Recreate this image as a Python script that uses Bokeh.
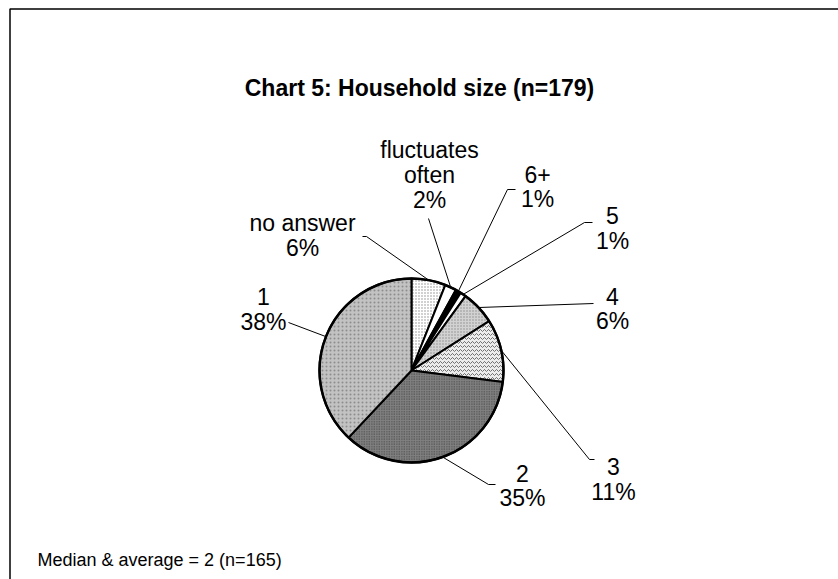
import numpy as np
from bokeh.plotting import figure
from bokeh.models import ColumnDataSource, Range1d
from bokeh.core.properties import value
from bokeh.embed import file_html
from bokeh.resources import INLINE

# ---- data ----
categories = ["no answer", "fluctuates often", "6+", "5", "4", "3", "2", "1"]
percent = [6, 2, 1, 1, 6, 11, 35, 38]
label_text = ["no answer\n6%", "fluctuates\noften\n2%", "6+\n1%", "5\n1%",
              "4\n6%", "3\n11%", "2\n35%", "1\n38%"]
chart_title = "Chart 5: Household size (n=179)"
note_text = "Median & average = 2 (n=165)"

# ---- styles ----
fills = ["#ffffff", "#ffffff", "#000000", "#ffffff", "#d2d2d2", "#ececec", "#808080", "#c2c2c2"]
hatches = ["dot", " ", " ", " ", "dot", "horizontal_wave", "dot", "dot"]
hatch_cols = ["#8c8c8c", "#ffffff", "#000000", "#ffffff", "#8c8c8c", "#707070", "#3c3c3c", "#8c8c8c"]
hatch_scales = [3, 4, 4, 4, 3, 4, 2.5, 4]
FONT = value("Liberation Sans")

# ---- layout (page pixel coordinates, y downward) ----
PAGE_W, PAGE_H = 838, 579
CX, CY, R = 411, 370, 92
LINE_GAP = 25
# label block centre
label_pos = [(302, 235), (429, 174), (537, 186), (612, 227.5),
             (612, 308), (613, 478.5), (522, 485), (263, 308.5)]
# outer end of each leader line and the length of its horizontal tick
leader_end = [(362, 236), (428, 218), (515, 189), (592, 222),
              (593, 303), (594, 459), (495, 484), (288, 322)]
leader_tick = [4, 0, -8, -8, 0, -5, -7, 0]


def dy(y):
    return PAGE_H - y


p = figure(width=PAGE_W, height=PAGE_H, x_range=Range1d(0, PAGE_W), y_range=Range1d(0, PAGE_H),
           output_backend="svg", toolbar_location=None, min_border=0,
           x_axis_location=None, y_axis_location=None)
p.grid.visible = False
p.outline_line_color = None
p.background_fill_color = "white"
p.border_fill_color = "white"

# frame border (top & left edges visible in the reference)
p.line(x=[9.5, 9.5, PAGE_W], y=[dy(PAGE_H), dy(8.5), dy(8.5)], line_color="black", line_width=1.5)

# ---- pie ----
frac = np.array(percent, dtype=float) / np.sum(percent)
cum = np.concatenate([[0.0], np.cumsum(frac)])
start = np.pi / 2 - cum[1:] * 2 * np.pi
end = np.pi / 2 - cum[:-1] * 2 * np.pi
mid = (cum[:-1] + cum[1:]) / 2 * 2 * np.pi

src = ColumnDataSource(dict(cat=categories, start=start, end=end, fill=fills,
                            hatch=hatches, hcol=hatch_cols, hscale=hatch_scales))
p.wedge(x=CX, y=dy(CY), radius=R, start_angle="start", end_angle="end", source=src,
        fill_color="fill", hatch_pattern="hatch", hatch_color="hcol", hatch_scale="hscale",
        hatch_weight=1, line_color="black", line_width=2)
p.circle(x=CX, y=dy(CY), radius=R, fill_color=None, line_color="black", line_width=2.5)

# ---- leader lines ----
xs, ys = [], []
for m, (lx, ly), t in zip(mid, leader_end, leader_tick):
    ex = CX + R * np.sin(m)
    ey = dy(CY) + R * np.cos(m)
    xs.append([lx, lx + t, ex])
    ys.append([dy(ly), dy(ly), ey])
p.multi_line(xs=xs, ys=ys, line_color="black", line_width=1)

# ---- labels (one text item per line) ----
tx, ty, tt = [], [], []
for (cx, cy), txt in zip(label_pos, label_text):
    lines = txt.split("\n")
    n = len(lines)
    for i, s in enumerate(lines):
        tx.append(cx)
        ty.append(dy(cy + (i - (n - 1) / 2) * LINE_GAP))
        tt.append(s)
p.text(x=tx, y=ty, text=tt, text_font=FONT, text_font_size=value("23px"),
       text_align="center", text_baseline="middle", text_color="black")

p.text(x=[419], y=[dy(87)], text=[chart_title], text_font=FONT,
       text_font_size=value("23px"), text_font_style="bold",
       text_align="center", text_baseline="middle", text_color="black")

p.text(x=[37], y=[dy(559)], text=[note_text], text_font=FONT,
       text_font_size=value("18px"), text_align="left", text_baseline="middle",
       text_color="black")

open("out.html", "w").write(file_html(p, INLINE))
